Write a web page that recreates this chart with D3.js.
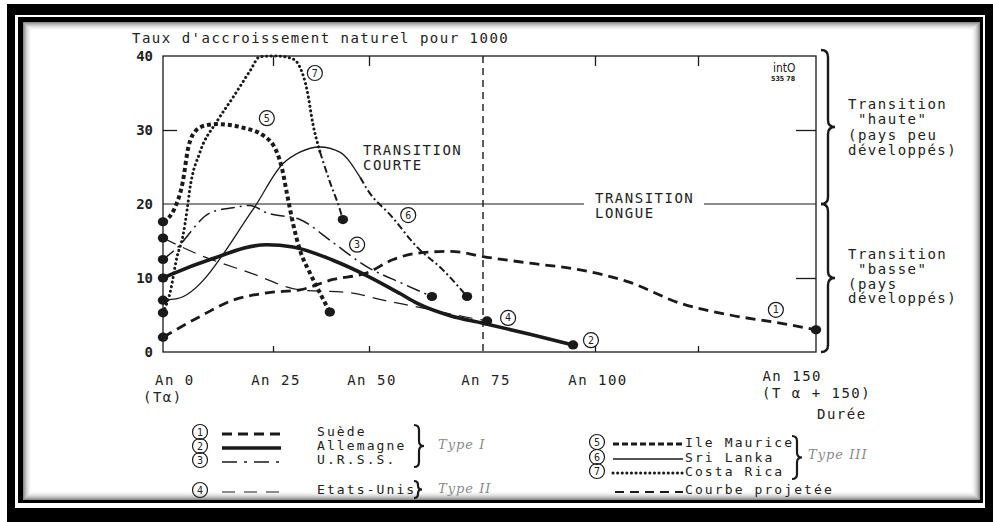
<!DOCTYPE html>
<meta charset="utf-8">
<style>
body{margin:0;background:#fff;}
text{font-family:"DejaVu Sans Mono",monospace;font-size:14px;letter-spacing:1.5px;fill:#222;}
.leg{font-size:13px;letter-spacing:2.1px;}
.typ{font-family:"DejaVu Serif",serif;font-style:italic;font-size:13px;fill:#8a8a8a;letter-spacing:1px;}
.num{font-size:10px;letter-spacing:0;text-anchor:middle;}
.logo{font-family:"DejaVu Sans Condensed",sans-serif;letter-spacing:0;}
</style>
<body>
<script src="https://cdn.jsdelivr.net/npm/d3@7"></script>
<script>
// years after start of transition (An 0 = T alpha) and natural growth rate per 1000
var suedeYears = [0, 8.4, 15.9, 23.6, 32, 40.6, 49.5, 55.3, 61.2, 67.8, 75.9, 85.5, 96.7, 108.5, 120.6, 131.8, 142.4, 150];
var suedeVals  = [2, 4.8, 7, 8, 8.4, 9.8, 10.7, 12.5, 13.4, 13.6, 12.8, 12.0, 11.1, 9.4, 6.6, 5.0, 3.9, 3.0];
var allemYears = [0, 2.3, 10.7, 23.6, 30.2, 40.6, 49.5, 56.8, 60.5, 67.8, 75, 85.5, 95.1];
var allemVals  = [10, 10.6, 12.5, 14.5, 14.2, 12.4, 10.3, 7.9, 6.6, 4.9, 3.9, 2.4, 0.95];
var urssYears  = [0, 2.7, 10.7, 15.9, 19.8, 23.6, 32, 40.6, 49.5, 56.8, 63.8];
var urssVals   = [12.5, 13.8, 18.8, 19.5, 19.8, 18.8, 17.9, 14.8, 11.5, 9.4, 7.5];
var usaYears   = [0, 8.4, 19.8, 32, 45.1, 53.1, 60.5, 71.5, 75.9];
var usaVals    = [15.4, 13.1, 10.7, 8.4, 8.0, 7.0, 6.1, 4.7, 4.2];
var maurYears  = [0, 2.7, 4.5, 5.7, 7.3, 9.5, 12.3, 18.2, 22.7, 26, 27.3, 28.6, 30.2, 32, 34.6, 37.2, 39.8];
var maurVals   = [17.6, 19.5, 23, 27.5, 29.8, 30.6, 30.8, 30.3, 29.3, 27.0, 24.9, 21.5, 17.4, 13.8, 10.7, 8.0, 5.4];
var lankaYears = [0, 3.2, 20.5, 27.5, 32, 37.2, 42.4, 47.7, 49.5, 55, 60.5, 66.2, 71.5];
var lankaVals  = [7, 7.2, 19.3, 25.4, 27, 27.7, 27, 23.6, 22, 18.3, 14.2, 11.1, 7.5];
var ricaYears  = [0, 1.6, 3.2, 4.5, 5.5, 6.1, 8.4, 12.3, 15.9, 19.8, 22, 26, 30.2, 32, 33.9, 35.4, 37.2, 39.8, 42.4, 43.2];
var ricaVals   = [5.3, 8, 12.9, 15.6, 19.3, 22, 27, 31.2, 34.4, 38, 39.9, 40, 39.6, 38.5, 35.3, 30.8, 27.1, 23, 19.3, 17.9];

var countries = ["Suède", "Allemagne", "U.R.S.S.", "Etats-Unis", "Ile Maurice", "Sri Lanka", "Costa Rica"];
var projFrom  = [null, null, null, null, null, 47.7, 37.2];   // start of projected curve
// where the circled numbers sit (year, rate)
var tagYears = [141.5, 99.1, 46.9, 80.6, 23.6, 58.6, 35.9];
var tagVals  = [5.7, 1.6, 14.5, 4.6, 31.6, 18.5, 37.7];

var xTickYears = [0, 25, 50, 75, 100, 125, 150];
var xLabelYears = [0, 25, 50, 75, 100, 150];
var xLabels = ["An 0", "An 25", "An 50", "An 75", "An 100", "An 150"];
var yTicks = [0, 10, 20, 30, 40];

var styles = [
  {w: 2.8, dash: "10,6"},
  {w: 3.6, dash: null},
  {w: 1.5, dash: "14,5,2,5"},
  {w: 1.2, dash: "14,8"},
  {w: 4, dash: "4,3"},
  {w: 1.3, dash: null},
  {w: 3, dash: "0.1,4.5", cap: "round"}
];
var projStyle = {w: 2, dash: "7,3,2,3"};

var series = [
  [suedeYears, suedeVals], [allemYears, allemVals], [urssYears, urssVals], [usaYears, usaVals],
  [maurYears, maurVals], [lankaYears, lankaVals], [ricaYears, ricaVals]
].map(function(a, i){ return {id: i + 1, name: countries[i], pts: d3.zip(a[0], a[1]), proj: projFrom[i]}; });

var W = 993, H = 522;
var svg = d3.select("body").append("svg").attr("width", W).attr("height", H);

// frame
svg.append("rect").attr("x", 7).attr("y", 4).attr("width", 986).attr("height", 518).attr("fill", "#000");
svg.append("rect").attr("x", 15).attr("y", 15).attr("width", 970).attr("height", 493).attr("fill", "#fff");
svg.append("rect").attr("x", 18).attr("y", 17).attr("width", 965).attr("height", 486).attr("fill", "#000");
svg.append("rect").attr("x", 23).attr("y", 22).attr("width", 957).attr("height", 478).attr("fill", "#fff");
d3.range(9).forEach(function(i){
  svg.append("rect").attr("x", 23.5 + i).attr("y", 22.5 + i)
    .attr("width", 956 - 2 * i).attr("height", 477 - 2 * i)
    .attr("fill", "none").attr("stroke", "#000").attr("stroke-opacity", 0.45 * Math.pow(1 - i / 9, 2));
});

// hand drawn axis: ticks are not evenly spaced
var x = d3.scaleLinear().domain(xTickYears).range([163, 273, 369, 483, 595, 698, 816]);
var y = d3.scaleLinear().domain([0, 40]).range([352, 56]);

var ink = "#1a1a1a";

svg.append("rect").attr("x", x(0)).attr("y", y(40)).attr("width", x(150) - x(0)).attr("height", y(0) - y(40))
  .attr("fill", "none").attr("stroke", ink).attr("stroke-width", 1.3);

function styleAxis(g){
  g.select(".domain").remove();
  g.selectAll(".tick line").attr("stroke", ink).attr("stroke-width", 1.3);
}
svg.append("g").attr("transform", "translate(0," + y(0) + ")")
  .call(d3.axisBottom(x).tickValues([25, 50, 100, 125]).tickSize(-6).tickFormat("")).call(styleAxis);
svg.append("g").attr("transform", "translate(0," + y(40) + ")")
  .call(d3.axisTop(x).tickValues([25, 50, 100, 125]).tickSize(-10).tickFormat("")).call(styleAxis);
svg.append("g").attr("transform", "translate(" + x(0) + ",0)")
  .call(d3.axisLeft(y).tickValues(yTicks).tickSize(0).tickPadding(10)).call(styleAxis)
  .selectAll("text").style("font-weight", "bold").style("letter-spacing", "0px");
svg.append("g").attr("transform", "translate(" + x(0) + ",0)")
  .call(d3.axisRight(y).tickValues([30]).tickSize(14).tickFormat("")).call(styleAxis);
svg.append("g").attr("transform", "translate(" + x(150) + ",0)")
  .call(d3.axisLeft(y).tickValues([10, 30]).tickSize(20).tickFormat("")).call(styleAxis);

// line at 20 and dashed line at An 75
svg.append("line").attr("x1", x(0)).attr("x2", x(150)).attr("y1", y(20)).attr("y2", y(20))
  .attr("stroke", ink).attr("stroke-width", 1.1);
svg.append("line").attr("x1", x(75)).attr("x2", x(75)).attr("y1", y(40)).attr("y2", y(0))
  .attr("stroke", ink).attr("stroke-width", 1.4).attr("stroke-dasharray", "7,5");

svg.append("rect").attr("x", 584).attr("y", y(20) - 12).attr("width", 120).attr("height", 26).attr("fill", "#fff");
svg.append("text").attr("x", 595).attr("y", 203).text("TRANSITION");
svg.append("text").attr("x", 595).attr("y", 218).text("LONGUE");
svg.append("text").attr("x", 363).attr("y", 155).text("TRANSITION");
svg.append("text").attr("x", 363).attr("y", 170).text("COURTE");

svg.append("text").attr("x", 132).attr("y", 43).text("Taux d'accroissement naturel pour 1000");

// x labels
svg.selectAll(".xl").data(xLabelYears).enter().append("text").attr("class", "xl")
  .attr("x", function(d){ return x(d); }).attr("y", function(d){ return d === 150 ? 381 : 385; })
  .attr("text-anchor", function(d){ return d === 0 ? "start" : d === 150 ? "end" : "middle"; })
  .attr("dx", function(d){ return d === 0 ? -8 : d === 150 ? 6 : 3; })
  .text(function(d, i){ return xLabels[i]; });
svg.append("text").attr("x", x(0) - 20).attr("y", 402).text("(T\u03b1)");
svg.append("text").attr("x", x(150) - 54).attr("y", 398).text("(T \u03b1 + 150)");
svg.append("text").attr("x", 817).attr("y", 419).text("Durée");

// curves
var line = d3.line().x(function(d){ return x(d[0]); }).y(function(d){ return y(d[1]); }).curve(d3.curveMonotoneX);

function drawPath(pts, st){
  svg.append("path").attr("d", line(pts)).attr("fill", "none").attr("stroke", ink)
    .attr("stroke-width", st.w).attr("stroke-dasharray", st.dash)
    .attr("stroke-linecap", st.cap || "butt");
}
series.forEach(function(s, i){
  if (s.proj == null) drawPath(s.pts, styles[i]);
  else {
    drawPath(s.pts.filter(function(p){ return p[0] <= s.proj; }), styles[i]);
    drawPath(s.pts.filter(function(p){ return p[0] >= s.proj; }), projStyle);
  }
  [s.pts[0], s.pts[s.pts.length - 1]].forEach(function(p){
    svg.append("ellipse").attr("cx", x(p[0])).attr("cy", y(p[1])).attr("rx", 5.2).attr("ry", 4.6).attr("fill", ink);
  });
});

// circled numbers on curves
function tag(cx, cy, n){
  svg.append("circle").attr("cx", cx).attr("cy", cy).attr("r", 7.5)
    .attr("fill", "none").attr("stroke", ink).attr("stroke-width", 1.2);
  svg.append("text").attr("class", "num").attr("x", cx).attr("y", cy + 3.5).text(n);
}
series.forEach(function(s, i){ tag(x(tagYears[i]), y(tagVals[i]), s.id); });

// braces
function brace(xb, y0, y1, w){
  var m = (y0 + y1) / 2, h = w / 2;
  return "M" + xb + "," + y0 + " Q" + (xb + h) + "," + y0 + " " + (xb + h) + "," + (y0 + h) +
    " L" + (xb + h) + "," + (m - h) + " Q" + (xb + h) + "," + m + " " + (xb + w) + "," + m +
    " Q" + (xb + h) + "," + m + " " + (xb + h) + "," + (m + h) +
    " L" + (xb + h) + "," + (y1 - h) + " Q" + (xb + h) + "," + y1 + " " + xb + "," + y1;
}
function drawBrace(xb, y0, y1, w, sw){
  svg.append("path").attr("d", brace(xb, y0, y1, w)).attr("fill", "none").attr("stroke", ink).attr("stroke-width", sw);
}
drawBrace(821, y(40) - 6, y(20), 14, 2.4);
drawBrace(821, y(20), y(0), 14, 2.4);

var hauteLines = ["Transition", " \"haute\"", "(pays peu", "développés)"];
var basseLines = ["Transition", " \"basse\"", "(pays", "développés)"];
svg.selectAll(".ht").data(hauteLines).enter().append("text").attr("class", "ht")
  .attr("x", 848).attr("y", function(d, i){ return 109 + i * 15.3; }).attr("xml:space", "preserve").text(function(d){ return d; });
svg.selectAll(".bs").data(basseLines).enter().append("text").attr("class", "bs")
  .attr("x", 848).attr("y", function(d, i){ return 259 + i * 14.8; }).attr("xml:space", "preserve").text(function(d){ return d; });

// logo
svg.append("text").attr("class", "logo").attr("x", 773).attr("y", 72).style("font-size", "12px").text("intO");
svg.append("text").attr("class", "logo").attr("x", 771).attr("y", 81).style("font-size", "7px").style("font-weight", "bold").text("535 78");

// legend
var legLeft = [{i: 0, y: 432}, {i: 1, y: 446}, {i: 2, y: 460}, {i: 3, y: 490}];
var legRight = [{i: 4, y: 442}, {i: 5, y: 457}, {i: 6, y: 471}];
legLeft.forEach(function(d){
  tag(200, d.y, d.i + 1);
  var st = styles[d.i];
  svg.append("line").attr("x1", 222).attr("x2", 281).attr("y1", d.y + 2).attr("y2", d.y + 2)
    .attr("stroke", ink).attr("stroke-width", st.w).attr("stroke-dasharray", d.i === 2 ? "15,7,3,7" : d.i === 3 ? "13,9" : st.dash);
  svg.append("text").attr("class", "leg").attr("x", 317).attr("y", d.y + 4).text(countries[d.i]);
});
legRight.forEach(function(d){
  tag(597, d.y, d.i + 1);
  var st = styles[d.i];
  svg.append("line").attr("x1", 613).attr("x2", 683).attr("y1", d.y + 2).attr("y2", d.y + 2)
    .attr("stroke", ink).attr("stroke-width", d.i === 4 ? 3.2 : st.w).attr("stroke-dasharray", d.i === 4 ? "6,3" : st.dash)
    .attr("stroke-linecap", st.cap || "butt");
  svg.append("text").attr("class", "leg").attr("x", 685).attr("y", d.y + 5).text(countries[d.i]);
});
svg.append("line").attr("x1", 615).attr("x2", 683).attr("y1", 492).attr("y2", 492)
  .attr("stroke", ink).attr("stroke-width", 2.2).attr("stroke-dasharray", "9,6");
svg.append("text").attr("class", "leg").attr("x", 685).attr("y", 494).text("Courbe projetée");

drawBrace(414, 425, 467, 10, 2.2);
drawBrace(414, 481, 498, 8, 2.2);
drawBrace(792, 436, 479, 10, 2.2);
svg.append("text").attr("class", "typ").attr("x", 438).attr("y", 449).text("Type I");
svg.append("text").attr("class", "typ").attr("x", 438).attr("y", 493).text("Type II");
svg.append("text").attr("class", "typ").attr("x", 808).attr("y", 459).text("Type III");
</script>
</body>
